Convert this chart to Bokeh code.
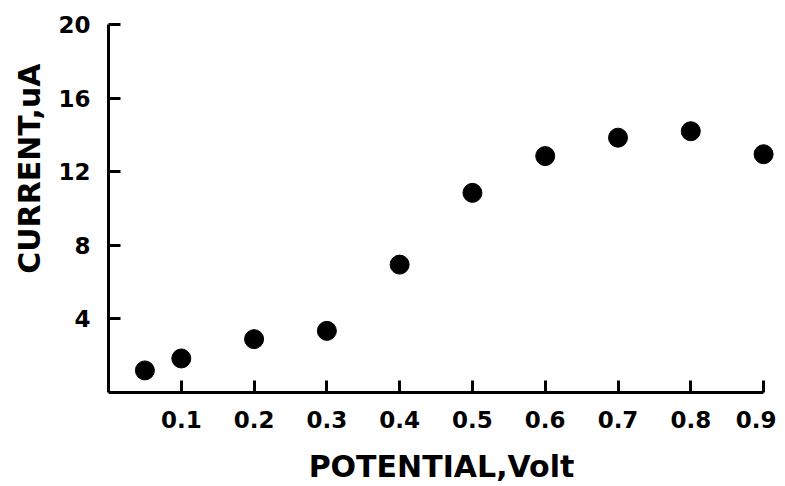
from bokeh.plotting import figure
from bokeh.models import Range1d, FixedTicker, Title
from bokeh.embed import file_html
from bokeh.resources import INLINE

# data
potential = [0.05, 0.1, 0.2, 0.3, 0.4, 0.5, 0.6, 0.7, 0.8, 0.9]
current = [1.2, 1.85, 2.9, 3.35, 6.95, 10.85, 12.85, 13.85, 14.2, 12.95]
x_ticks = [0.1, 0.2, 0.3, 0.4, 0.5, 0.6, 0.7, 0.8, 0.9]
y_ticks = [4, 8, 12, 16, 20]
x_title = "POTENTIAL,Volt"
y_title = "CURRENT,uA"

FONT = "DejaVu Sans"

p = figure(width=776, height=486, output_backend="svg", toolbar_location=None,
           x_range=Range1d(0, 0.915), y_range=Range1d(0, 20),
           min_border_left=105, min_border_top=24, min_border_right=2, min_border_bottom=70)
p.outline_line_color = None
p.xgrid.visible = False
p.ygrid.visible = False

p.scatter(potential, current, size=19, fill_color="black", line_color="black")

for ax in (p.xaxis[0], p.yaxis[0]):
    ax.axis_line_width = 3
    ax.axis_line_color = "black"
    ax.major_tick_line_width = 3
    ax.major_tick_line_color = "black"
    ax.major_tick_in = 12
    ax.major_tick_out = 0
    ax.minor_tick_line_color = None
    ax.major_label_text_font = FONT
    ax.major_label_text_font_style = "bold"
    ax.major_label_text_font_size = "23px"
    ax.major_label_text_color = "black"

p.xaxis.ticker = FixedTicker(ticks=x_ticks)
p.yaxis.ticker = FixedTicker(ticks=y_ticks)
p.xaxis.bounds = (0, 0.9)
p.xaxis.major_label_standoff = 18
p.yaxis.major_label_standoff = 18

p.xaxis.axis_label = x_title
p.xaxis.axis_label_text_font = FONT
p.xaxis.axis_label_text_font_style = "bold"
p.xaxis.axis_label_text_font_size = "30px"
p.xaxis.axis_label_text_color = "black"
p.xaxis.axis_label_standoff = 18

ytitle = Title(text=y_title, align="right", offset=39, standoff=18,
               text_font=FONT, text_font_style="bold", text_font_size="30px",
               text_color="black")
p.add_layout(ytitle, "left")

open("out.html", "w").write(file_html(p, INLINE))
